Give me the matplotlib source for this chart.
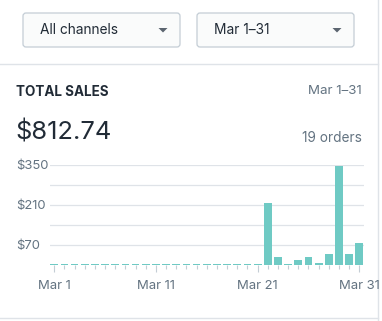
import numpy as np
import matplotlib.pyplot as plt
from matplotlib.patches import FancyBboxPatch, Polygon

plt.rcParams['font.family'] = ['Inter', 'DejaVu Sans']

days = list(range(1, 32))
sales = [0] * 21 + [218, 28, 3.5, 17.5, 28, 7, 38.5, 346, 38.5, 78]
ytick_vals = [70, 210, 350]
ytick_labels = ['$70', '$210', '$350']
xtick_vals = [1, 11, 21, 31]
xtick_labels = ['Mar 1', 'Mar 11', 'Mar 21', 'Mar 31']
channel_label = 'All channels'
range_label = 'Mar 1–31'
total_label = '$812.74'
orders_label = '19 orders'

dark = '#212b36'
gray = '#637381'
line = '#dfe3e8'
teal = '#6fcac4'

W, H = 382, 321
fig = plt.figure(figsize=(W / 100, H / 100), dpi=100)

# page layer in pixel coordinates
bg = fig.add_axes([0, 0, 1, 1])
bg.set_xlim(0, W)
bg.set_ylim(H, 0)
bg.axis('off')

for x0, label in [(23, channel_label), (197, range_label)]:
    box = FancyBboxPatch((x0, 13), 157, 34, boxstyle='round,pad=0,rounding_size=3',
                         fc='#fafbfb', ec='#c4cdd5', lw=0.9)
    bg.add_patch(box)
    bg.text(x0 + 17.5, 30.5, label, fontsize=9.9, color=dark, va='center', ha='left')
    cx = x0 + 140
    bg.add_patch(Polygon([(cx - 4.5, 28), (cx + 4.5, 28), (cx, 32.5)],
                         closed=True, fc='#5c6570', ec='none'))

bg.plot([0, 378], [64.3, 64.3], color=line, lw=1)
bg.plot([378, 378], [0, H], color=line, lw=1)
bg.plot([0, 378], [317.7, 317.7], color=line, lw=1)

bg.text(16, 91.5, 'TOTAL SALES', fontsize=9.7, fontweight='bold', color=dark,
        va='center', ha='left')
bg.text(362, 91.5, range_label, fontsize=9.6, color=gray, va='center', ha='right')
bg.text(15, 133, total_label, fontsize=18.3, color=dark, va='center', ha='left')
bg.text(362, 137.5, orders_label, fontsize=9.8, color=gray, va='center', ha='right')

# chart
ax = fig.add_axes([50 / W, 1 - 265 / H, 314 / W, 100 / H])
ax.patch.set_alpha(0)
heights = np.maximum(sales, 4.5)
ax.bar(days, heights, width=0.76, color=teal, zorder=3)
ax.set_xlim(0.58, 31.46)
ax.set_ylim(0, 350)
for s in ax.spines.values():
    s.set_visible(False)
for g in range(70, 351, 70):
    ax.axhline(g, color=line, lw=0.9, zorder=1)

ax.set_yticks(ytick_vals)
ax.set_yticklabels(ytick_labels)
ax.tick_params(axis='y', length=0, pad=24.5, labelsize=9.4, labelcolor=gray)
for lab in ax.get_yticklabels():
    lab.set_horizontalalignment('left')

ax.set_xticks(xtick_vals)
ax.set_xticklabels(xtick_labels)
ax.set_xticks(days, minor=True)
ax.tick_params(axis='x', which='major', length=5, width=0.8, color='#c4cdd5',
               pad=6, labelsize=9.4, labelcolor=gray)
ax.tick_params(axis='x', which='minor', length=3, width=0.8, color='#c4cdd5')

fig.savefig('out.png', dpi=100)
